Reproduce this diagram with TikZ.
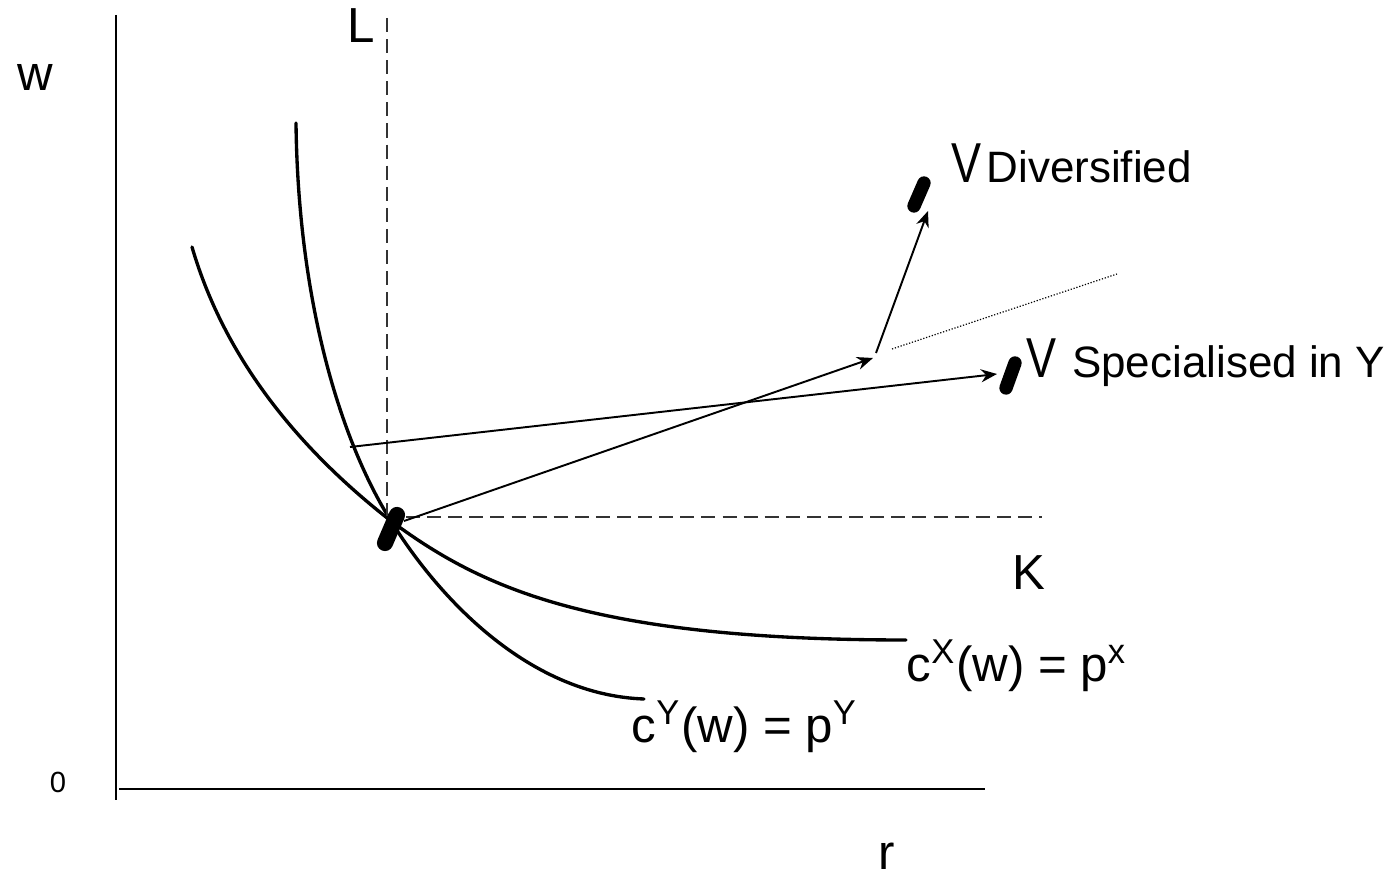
\documentclass[tikz,border=0pt]{standalone}
\usepackage{fontspec}
\setmainfont{Liberation Sans}
\usetikzlibrary{positioning,arrows.meta}

\begin{document}
\begin{tikzpicture}[
  x=0.01cm, y=-0.01cm,
  eixo/.style={line width=0.85pt},
  curva/.style={line width=0.95pt, line cap=round},
  seta/.style={-{Stealth[length=1.6mm, width=1.3mm]}, line width=0.55pt},
  tracejado/.style={dash pattern=on 4pt off 2pt, line width=0.55pt, black!80},
  pontilhado/.style={dash pattern=on 0.35pt off 0.5pt, line width=0.35pt},
  marca/.style={line width=4.6pt, line cap=round},
  marcap/.style={line width=3.8pt, line cap=round},
  rotulo/.style={inner sep=0pt, font=\fontsize{14}{16}\selectfont},
  menor/.style={inner sep=0pt, font=\fontsize{12.5}{15}\selectfont},
  grande/.style={inner sep=0pt, font=\fontsize{16}{18}\selectfont}
]
  \useasboundingbox (0,0) rectangle (1400,877);

  % Eixos
  \coordinate (topo) at (116,15);
  \coordinate (base) at (116,800);
  \coordinate (ini) at (119,789);
  \coordinate (fim) at (985,789);
  \draw[line width=0.6pt] (topo) -- (base);
  \draw[eixo] (ini) -- (fim);
  \node[rotulo] (w) at (35,78) {w};
  \node[inner sep=0pt, font=\fontsize{8.3}{10}\selectfont] (zero) at (58,782) {0};
  \node[rotulo] (r) at (887,856) {r};

  % Curvas de custo unitario
  \coordinate (E) at (391,521);
  \draw[curva] (192,247) .. controls (225,360) and (300,450) .. (E)
                         .. controls (480,587) and (590,640) .. (906,640);
  \draw[curva] (296,123) .. controls (298,300) and (340,440) .. (E)
                         .. controls (440,600) and (530,695) .. (644,699);
  \node[rotulo, anchor=base west] (cx) at (906,682) {c\textsuperscript{X}(w) = p\textsuperscript{x}};
  \node[rotulo, anchor=base west] (cy) at (631,743) {c\textsuperscript{Y}(w) = p\textsuperscript{Y}};

  % Dotacoes L e K
  \coordinate (ltopo) at (387,18);
  \coordinate (lbase) at (387,516);
  \coordinate (kini) at (406,517);
  \coordinate (kfim) at (1042,517);
  \draw[tracejado] (ltopo) -- (lbase);
  \draw[tracejado] (kini) -- (kfim);
  \node[rotulo] (L) at (361,26) {L};
  \node[rotulo] (K) at (1029,573) {K};

  % Ponto de equilibrio e novos V
  \coordinate (eqa) at (385,543);
  \coordinate (eqb) at (397,515);
  \draw[marca] (eqa) -- (eqb);
  \coordinate (diva) at (914,206);
  \coordinate (divb) at (924,183);
  \draw[marcap] (diva) -- (divb);
  \coordinate (espa) at (1006,388);
  \coordinate (espb) at (1015,363);
  \draw[marcap] (espa) -- (espb);

  \node[grande, anchor=base west] (vdiv) at (951,183) {\scalebox{0.8}[1]{V}};
  \node[menor, right=1pt of vdiv.base east, anchor=base west] (div) {Diversified};
  \node[grande, anchor=base west] (vesp) at (1026,378) {\scalebox{0.8}[1]{V}};
  \node[menor, right=4pt of vesp.base east, anchor=base west] (esp) {Specialised in Y};

  % Setas
  \coordinate (sa) at (350,447);
  \coordinate (sb) at (997,374);
  \coordinate (ta) at (404,521);
  \coordinate (tb) at (873,358);
  \coordinate (ua) at (876,353);
  \coordinate (ub) at (928,211);
  \coordinate (pa) at (892,349);
  \coordinate (pb) at (1117,274);
  \draw[seta] (sa) -- (sb);
  \draw[seta] (ta) -- (tb);
  \draw[seta] (ua) -- (ub);
  \draw[pontilhado] (pa) -- (pb);
\end{tikzpicture}
\end{document}
